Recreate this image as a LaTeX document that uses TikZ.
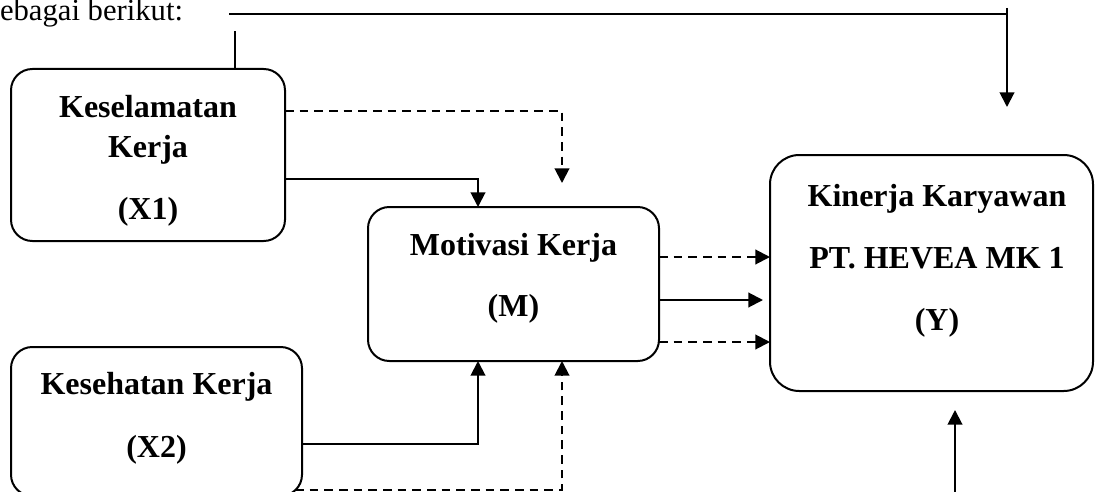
\documentclass[tikz,border=0pt]{standalone}
\usepackage{fontspec}
\setmainfont{Liberation Serif}
\usetikzlibrary{arrows.meta}

\begin{document}
\begin{tikzpicture}[x=0.75pt,y=0.75pt,yscale=-1,xscale=1,
  line width=1.5pt,
  box/.style={draw,rectangle,rounded corners=16pt,inner sep=0pt,outer sep=0pt},
  boxtxt/.style={align=center,font=\fontsize{24}{30}\selectfont\bfseries,inner sep=0pt},
  arr/.style={-{Triangle[length=11pt,width=11pt]}},
  dashline/.style={dash pattern=on 6.5pt off 4.5pt}]
\useasboundingbox (0,0) rectangle (1099,492);

% Text Node
\node [anchor=base west,font=\fontsize{23}{27}\selectfont,inner sep=0pt] (intro) at (-1,21) {ebagai berikut:};

%Shape: Rectangle
\node [box,minimum width=205.5pt,minimum height=129pt] (X1) at (148,155) {};
%Shape: Rectangle
\node [box,minimum width=218.25pt,minimum height=111.75pt] (X2) at (156.5,421.5) {};
%Shape: Rectangle
\node [box,minimum width=218.25pt,minimum height=115.5pt] (M) at (513.5,284) {};
%Shape: Rectangle
\node [box,rounded corners=22pt,minimum width=242.25pt,minimum height=177pt] (Y) at (931.5,273) {};

% Text Node
\node [boxtxt] (X1txt) at (148,161) {Keselamatan\\Kerja\\[16.5pt](X1)};
% Text Node
\node [boxtxt] (X2txt) at (156.5,418) {Kesehatan Kerja\\[17.25pt](X2)};
% Text Node
\node [boxtxt] (Mtxt) at (513.5,278) {Motivasi Kerja\\[16pt](M)};
% Text Node
\node [boxtxt] (Ytxt) at (937,261) {Kinerja Karyawan\\[16.5pt]PT. HEVEA MK 1\\[16.5pt](Y)};

% free ends
\coordinate (topL) at (229,14);
\coordinate (topR) at (1007,8);
\coordinate (topTip) at (1007,107);
\coordinate (x1up) at (235,31);
\coordinate (mTip) at (562,183);
\coordinate (x2d) at (295,490);
\coordinate (yTip1) at (763,300);
\coordinate (yLow) at (955,495);
\coordinate (yTip2) at (955,410);

%Straight Lines
\draw (topL) -- (topL -| topR);
\draw [arr] (topR) -- (topTip);
\draw (X1.north -| x1up) -- (x1up);

%Straight Lines
\draw [arr] (X1.east |- 0,179) -| (M.north -| 478,0);
\draw [arr,dashline] (X1.east |- 0,111) -| (mTip);
\draw [arr] (X2.east |- 0,444) -| (M.south -| 478,0);
\draw [arr,dashline] (x2d) -| (M.south -| 562,0);

%Straight Lines
\draw [arr,dashline] (M.east |- 0,257) -- (Y.west |- 0,257);
\draw [arr] (M.east |- 0,300) -- (yTip1);
\draw [arr,dashline] (M.east |- 0,342) -- (Y.west |- 0,342);
\draw [arr] (yLow) -- (yTip2);

\end{tikzpicture}
\end{document}
